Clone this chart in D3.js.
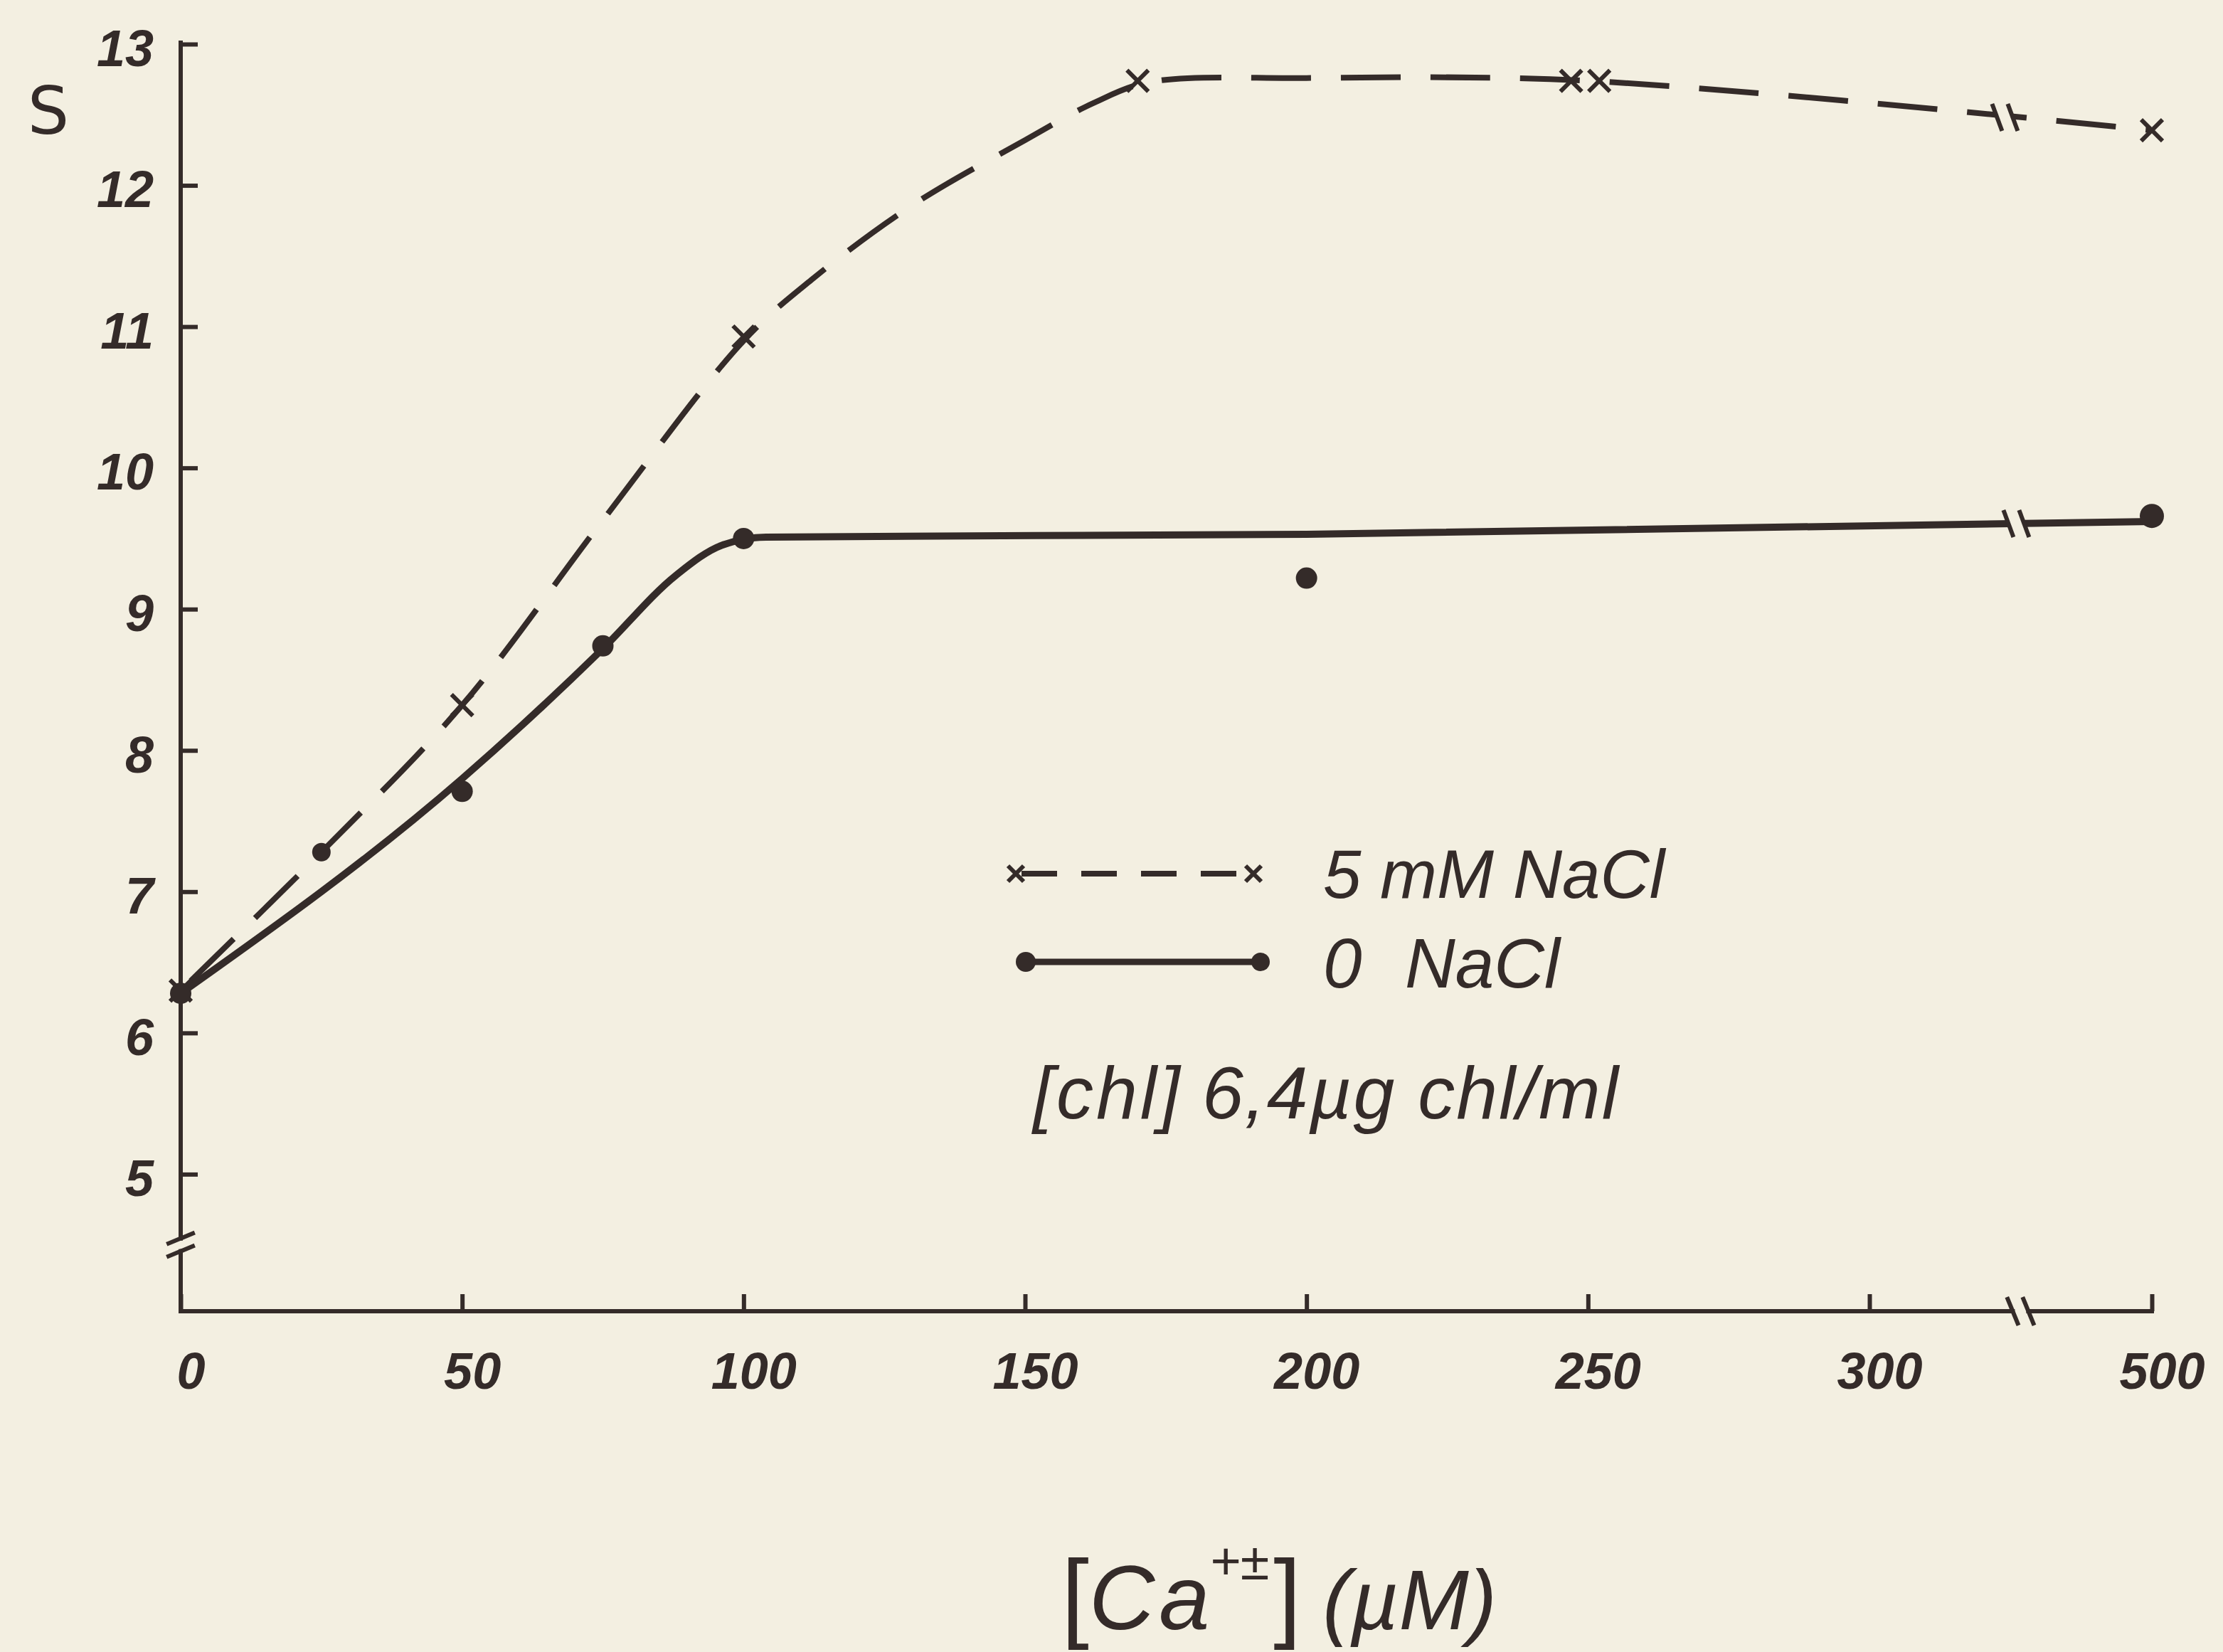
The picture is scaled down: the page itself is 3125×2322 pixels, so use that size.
<!DOCTYPE html>
<html><head><meta charset="utf-8">
<script src="https://cdn.jsdelivr.net/npm/d3@7"></script>
<style>html,body{margin:0;padding:0;background:#f3efe1;overflow:hidden}</style>
</head><body>
<svg id="chart"></svg>
<script>
// ---- data ----
const xTicks = [0, 50, 100, 150, 200, 250, 300, 500];
const yTicks = [5, 6, 7, 8, 9, 10, 11, 12, 13];
const xBreak = 407;   // axis break between 300 and 500
const yBreak = 4.5;   // axis break below 5

// 5 mM NaCl (crosses, dashed)
const nacl5Cross = [[0, 6.3], [50, 8.32], [100, 10.93], [170, 12.74], [247, 12.74], [252, 12.74], [500, 12.39]];
const nacl5Dot = [[25, 7.28]];
const nacl5Curve = [[0, 6.3], [25, 7.28], [50, 8.32], [75, 9.63], [100, 10.9], [112, 11.33], [130, 11.86], [150, 12.32], [162, 12.58], [172, 12.73], [200, 12.76], [250, 12.74], [500, 12.39]];

// 0 NaCl (dots, solid)
const nacl0Dot = [[0, 6.28], [50, 7.71], [75, 8.74], [100, 9.5], [200, 9.22], [500, 9.66]];
const nacl0Curve = [[0, 6.28], [50, 7.8], [75, 8.72], [88, 9.24], [96, 9.45], [104, 9.51], [200, 9.53], [500, 9.62]];

// ---- drawing ----
const W = 3125, H = 2322;
const ink = "#342b29", bg = "#f3efe1";
const svg = d3.select("#chart").attr("width", W).attr("height", H).style("background", bg);

const x = d3.scaleLinear().domain([0, 300, 500]).range([254, 2628, 3025]);
const y = d3.scaleLinear().domain([4.03, 13]).range([1843, 62]);
const x0 = x(0), yBase = y(4.03);

const tickFont = "'Liberation Sans', Arial, sans-serif";

// Y axis
const yAx = svg.append("g").attr("transform", `translate(${x0},0)`)
  .call(d3.axisLeft(y).tickValues(yTicks).tickSize(-24).tickPadding(38).tickFormat(d3.format("d")));
yAx.select(".domain").remove();
yAx.selectAll(".tick line").attr("stroke", ink).attr("stroke-width", 6);
yAx.selectAll(".tick text").attr("fill", ink).attr("dy", "0.42em").style("font-family", tickFont)
  .style("font-size", "72px").style("font-weight", "bold").style("font-style", "italic");

// X axis
const xAx = svg.append("g").attr("transform", `translate(0,${yBase})`)
  .call(d3.axisBottom(x).tickValues(xTicks).tickSize(-24).tickPadding(58).tickFormat(d3.format("d")));
xAx.select(".domain").remove();
xAx.selectAll(".tick line").attr("stroke", ink).attr("stroke-width", 6);
xAx.selectAll(".tick text").attr("fill", ink).attr("dx", 14).style("font-family", tickFont)
  .style("font-size", "72px").style("font-weight", "bold").style("font-style", "italic");

// axis lines with breaks
const axG = svg.append("g").attr("stroke", ink).attr("stroke-width", 6).attr("fill", "none").attr("stroke-linecap", "square");
const yb = y(yBreak), xb = x(xBreak);
axG.append("line").attr("x1", x0).attr("x2", x0).attr("y1", yBase).attr("y2", yb + 9);
axG.append("line").attr("x1", x0).attr("x2", x0).attr("y1", yb - 9).attr("y2", y(13) - 2);
axG.append("line").attr("x1", x0).attr("x2", xb - 11).attr("y1", yBase).attr("y2", yBase);
axG.append("line").attr("x1", xb + 11).attr("x2", x(500)).attr("y1", yBase).attr("y2", yBase);
// y break slashes
[-9, 9].forEach(o => axG.append("line").attr("x1", x0 - 17).attr("x2", x0 + 17)
  .attr("y1", yb + o + 7).attr("y2", yb + o - 7));
// x break slashes
[-11, 11].forEach(o => axG.append("line").attr("x1", xb + o - 7).attr("x2", xb + o + 7)
  .attr("y1", yBase - 17).attr("y2", yBase + 17));

// curves
const line5 = d3.line().x(d => x(d[0])).y(d => y(d[1])).curve(d3.curveCatmullRom.alpha(0.5));
const line0 = d3.line().x(d => x(d[0])).y(d => y(d[1])).curve(d3.curveMonotoneX);
svg.append("path").datum(nacl5Curve).attr("d", line5).attr("fill", "none").attr("stroke", ink)
  .attr("stroke-width", 8).attr("stroke-dasharray", "84,42").attr("stroke-dashoffset", -20);
svg.append("path").datum(nacl0Curve).attr("d", line0).attr("fill", "none").attr("stroke", ink)
  .attr("stroke-width", 10);

// breaks on curves
function yAt(curve, xv) {
  for (let i = 1; i < curve.length; i++) {
    if (curve[i][0] >= xv) {
      const a = curve[i - 1], b = curve[i];
      const t = (x(xv) - x(a[0])) / (x(b[0]) - x(a[0]));
      return y(a[1]) + t * (y(b[1]) - y(a[1]));
    }
  }
}
[nacl5Curve, nacl0Curve].forEach((c, i) => {
  const bx = i === 0 ? x(xBreak) - 22 : x(xBreak) - 6;
  const by = yAt(c, i === 0 ? xBreak - 11 : xBreak - 3);
  svg.append("rect").attr("x", bx - 11).attr("y", by - 10).attr("width", 22).attr("height", 20).attr("fill", bg);
  [-11, 11].forEach(o => svg.append("line").attr("x1", bx + o - 7).attr("x2", bx + o + 7)
    .attr("y1", by - 19).attr("y2", by + 19).attr("stroke", ink).attr("stroke-width", 6));
});

// markers
function cross(g, cx, cy, s) {
  g.append("path").attr("d", `M${cx - s},${cy - s}L${cx + s},${cy + s}M${cx - s},${cy + s}L${cx + s},${cy - s}`)
    .attr("stroke", ink).attr("stroke-width", 6).attr("fill", "none");
}
const mg = svg.append("g");
nacl5Cross.forEach(d => cross(mg, x(d[0]), y(d[1]), 15));
mg.selectAll("circle.a").data(nacl5Dot).join("circle").attr("cx", d => x(d[0])).attr("cy", d => y(d[1])).attr("r", 13).attr("fill", ink);
mg.selectAll("circle.b").data(nacl0Dot).join("circle").attr("cx", d => x(d[0])).attr("cy", d => y(d[1]))
  .attr("r", d => d[0] === 500 ? 17 : 15).attr("fill", ink);

// y label
svg.append("text").attr("x", 68).attr("y", 188).attr("text-anchor", "middle").attr("fill", ink)
  .style("font-family", "'DejaVu Sans', sans-serif").style("font-size", "92px").text("S");

// legend
const lg = svg.append("g");
const lfont = "'Liberation Sans', Arial, sans-serif";
lg.append("line").attr("x1", 1430).attr("x2", 1752).attr("y1", 1228).attr("y2", 1228)
  .attr("stroke", ink).attr("stroke-width", 8).attr("stroke-dasharray", "50,34").attr("stroke-dashoffset", -6);
cross(lg, 1428, 1228, 11); cross(lg, 1762, 1228, 11);
lg.append("text").attr("x", 1860).attr("y", 1262).attr("fill", ink).style("font-family", lfont)
  .style("font-size", "96px").style("font-style", "italic").text("5 mM NaCl");
lg.append("line").attr("x1", 1442).attr("x2", 1772).attr("y1", 1352).attr("y2", 1352).attr("stroke", ink).attr("stroke-width", 9);
lg.append("circle").attr("cx", 1442).attr("cy", 1352).attr("r", 14).attr("fill", ink);
lg.append("circle").attr("cx", 1772).attr("cy", 1352).attr("r", 13).attr("fill", ink);
lg.append("text").attr("x", 1860).attr("y", 1388).attr("fill", ink).style("font-family", lfont)
  .style("font-size", "98px").style("font-style", "italic").text("0");
lg.append("text").attr("x", 1975).attr("y", 1388).attr("fill", ink).style("font-family", lfont)
  .style("font-size", "98px").style("font-style", "italic").text("NaCl");
lg.append("text").attr("x", 1452).attr("y", 1572).attr("fill", ink).style("font-family", lfont)
  .style("font-size", "104px").style("font-style", "italic").attr("letter-spacing", 4).text("[chl]");
lg.append("text").attr("x", 1690).attr("y", 1572).attr("fill", ink).style("font-family", lfont)
  .style("font-size", "104px").style("font-style", "italic").attr("letter-spacing", 2).text("6,4µg chl/ml");

// x label
const xl = svg.append("text").attr("x", 1492).attr("y", 2290).attr("fill", ink)
  .style("font-family", lfont).style("font-style", "italic");
xl.append("tspan").style("font-size", "140px").style("font-style", "normal").text("[");
xl.append("tspan").style("font-size", "128px").attr("letter-spacing", 6).text("Ca");
xl.append("tspan").style("font-size", "74px").attr("dy", -70).attr("dx", -6).text("+±");
xl.append("tspan").style("font-size", "140px").style("font-style", "normal").attr("dy", 70).attr("dx", 6).text("]");
xl.append("tspan").style("font-size", "118px").attr("dx", 30).text("(µM)");
</script>
</body></html>
